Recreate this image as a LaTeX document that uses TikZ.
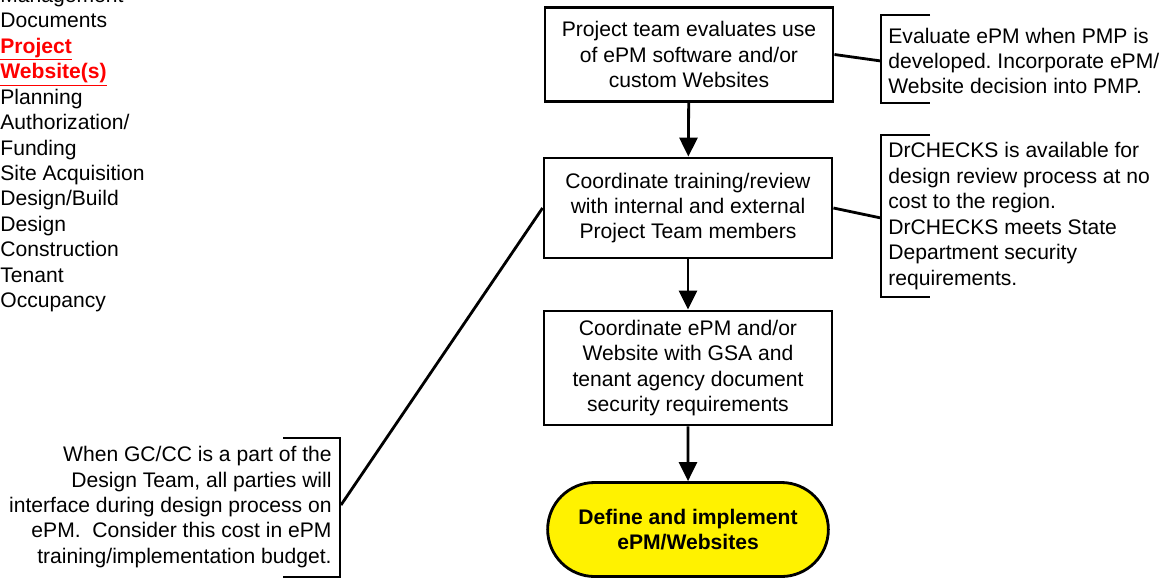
\documentclass[tikz,border=0pt]{standalone}
\usepackage{fontspec}
\setmainfont{Liberation Sans}
\usepackage{tikz}
\usetikzlibrary{arrows.meta,shapes.misc}
\frenchspacing

\begin{document}
\begin{tikzpicture}[
  x=0.025cm, y=-0.025cm,
  >={Triangle[length=13.5pt,width=12.8pt]},
  every node/.style={font=\fontsize{15}{18.1}\selectfont},
  every path/.style={line width=2pt},
  stepbox/.style={rectangle,draw,minimum width=7.2cm,align=center,inner sep=0pt},
  endbox/.style={rounded rectangle,draw,fill=yellow,minimum width=7.25cm,minimum height=2.35cm,
    align=center,font=\fontsize{15}{18.1}\selectfont\bfseries},
  note/.style={inner sep=0pt}
]
\useasboundingbox (0,0) rectangle (1170,581);

% phase list on the left
\node[note,align=left,anchor=west] (phases) at (-1,150)
  {Management\\Documents\\\textcolor{red}{\textbf{\underline{Project}}}\\
   \textcolor{red}{\textbf{\underline{Website(s)}}}\\Planning\\Authorization/\\Funding\\
   Site Acquisition\\Design/Build\\Design\\Construction\\Tenant\\Occupancy};

% main flow
\node[stepbox,minimum height=2.33cm] (evaluate) at (689,54.5)
  {Project team evaluates use\\of ePM software and/or\\custom Websites};
\node[stepbox,minimum height=2.5cm] (training) at (688,208)
  {Coordinate training/review\\with internal and external\\Project Team members};
\node[stepbox,minimum height=2.85cm] (security) at (688,368)
  {Coordinate ePM and/or\\Website with GSA and\\tenant agency document\\security requirements};
\node[endbox] (implement) at (688,529.5) {Define and implement\\ePM/Websites};

\draw[->] (evaluate) -- (training);
\draw[->] (training) -- (security);
\draw[->] (security) -- (implement);

% notes
\node[note,align=left,anchor=west] (pmpnote) at (887,61)
  {Evaluate ePM when PMP is\\developed. Incorporate ePM/\\Website decision into PMP.};
\draw (930,15) -- (881,15) -- (881,103) -- (930,103);
\coordinate (pmpbrk) at (881,61);
\draw (evaluate.east) -- (pmpbrk);

\node[note,align=left,anchor=west] (drnote) at (887,216)
  {DrCHECKS is available for\\design review process at no\\cost to the region.\\
   DrCHECKS meets State\\Department security\\requirements.};
\draw (930,135) -- (881,135) -- (881,297) -- (930,297);
\coordinate (drbrk) at (881,218);
\draw (training.east) -- (drbrk);

\node[note,align=right,anchor=east] (gcnote) at (333,507)
  {When GC/CC is a part of the\\Design Team, all parties will\\interface during design process on\\
   ePM.\ \ Consider this cost in ePM\\training/implementation budget.};
\draw (283,438) -- (340,438) -- (340,577) -- (283,577);
\coordinate (gcbrk) at (341,505);
\draw (gcbrk) -- (training.west);
\end{tikzpicture}
\end{document}
